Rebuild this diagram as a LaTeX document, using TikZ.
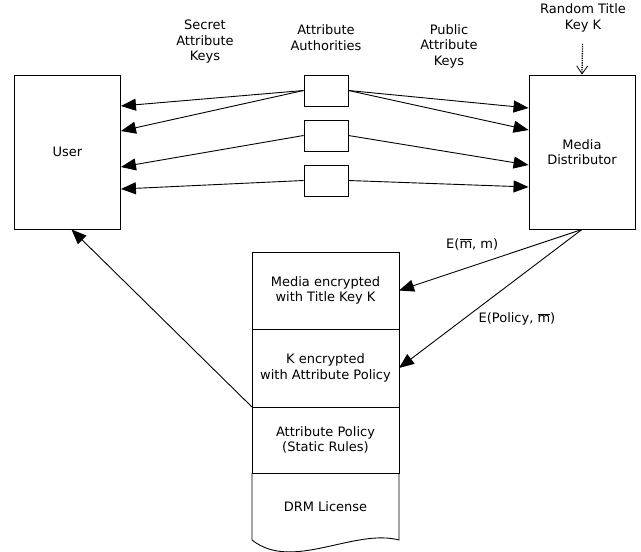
\documentclass[tikz,border=0pt]{standalone}
\usepackage{fontspec}
\setmainfont{DejaVu Sans}
\usetikzlibrary{arrows.meta,positioning}

\begin{document}
\begin{tikzpicture}[x=1pt,y=-1pt,->,>={Triangle[length=15pt,width=12pt]},line width=0.9pt,node distance=45pt,font=\fontsize{13}{15.5}\selectfont]
	\tikzstyle{big}=[draw,rectangle,minimum width=106pt,minimum height=154pt,align=center]
	\tikzstyle{auth}=[draw,rectangle,minimum width=44pt,minimum height=31pt]
	\tikzstyle{layer}=[draw,rectangle,minimum width=147pt,outer sep=0pt,align=center]
	\tikzstyle{caption}=[align=center]

	\useasboundingbox (0,0) rectangle (641,552);

	\node[big] (U) at (67.5,152) {User};
	\node[big] (D) at (582,152) {Media\\Distributor};

	\node[auth] (A1) at (326,90.5) {};
	\node[auth] (A2) [below of=A1] {};
	\node[auth] (A3) [below of=A2] {};

	\node[caption] (SK) at (205,42) {Secret\\Attribute\\Keys};
	\node[caption] (AA) at (326,37.5) {Attribute\\Authorities};
	\node[caption] (PK) at (449,46) {Public\\Attribute\\Keys};
	\node[caption] (RK) at (583,18) {Random Title\\Key K};

	\node[layer,minimum height=77pt] (Enc) at (325.5,290.5) {Media encrypted\\with Title Key K};
	\node[layer,minimum height=78pt,below=0pt of Enc] (KEnc) {K encrypted\\with Attribute Policy};
	\node[layer,minimum height=66pt,below=0pt of KEnc] (Pol) {Attribute Policy\\(Static Rules)};
	\node[minimum width=147pt,minimum height=67pt,outer sep=0pt,below=0pt of Pol] (Lic) {DRM License};
	\draw[-] (Pol.south west) -- (Lic.south west) .. controls +(40,32) and +(-45,-12) .. (Lic.south east) -- (Pol.south east);

	\draw (A1.west) -- ([yshift=46pt]U.east);
	\draw (A1.west) -- ([yshift=21pt]U.east);
	\draw (A2.west) -- ([yshift=-15pt]U.east);
	\draw (A3.west) -- ([yshift=-37pt]U.east);
	\draw (A1.east) -- ([yshift=44pt]D.west);
	\draw (A1.east) -- ([yshift=22pt]D.west);
	\draw (A2.east) -- ([yshift=-13pt]D.west);
	\draw (A3.east) -- ([yshift=-35pt]D.west);

	\draw[densely dotted,line width=1.3pt,shorten <=8pt,-{Straight Barb[length=8pt,width=11pt,line width=0.8pt]}] (RK) -- (D.north);

	\draw (D.south) -- node[pos=0.6,yshift=22pt] {E($\overline{\mbox{m}}$, m)} (Enc.east);
	\draw (D.south) -- node[pos=0.645,xshift=53pt] {E(Policy, $\overline{\mbox{m}}$)} (KEnc.east);
	\draw (KEnc.south west) -- ([xshift=4pt]U.south);
\end{tikzpicture}
\end{document}
